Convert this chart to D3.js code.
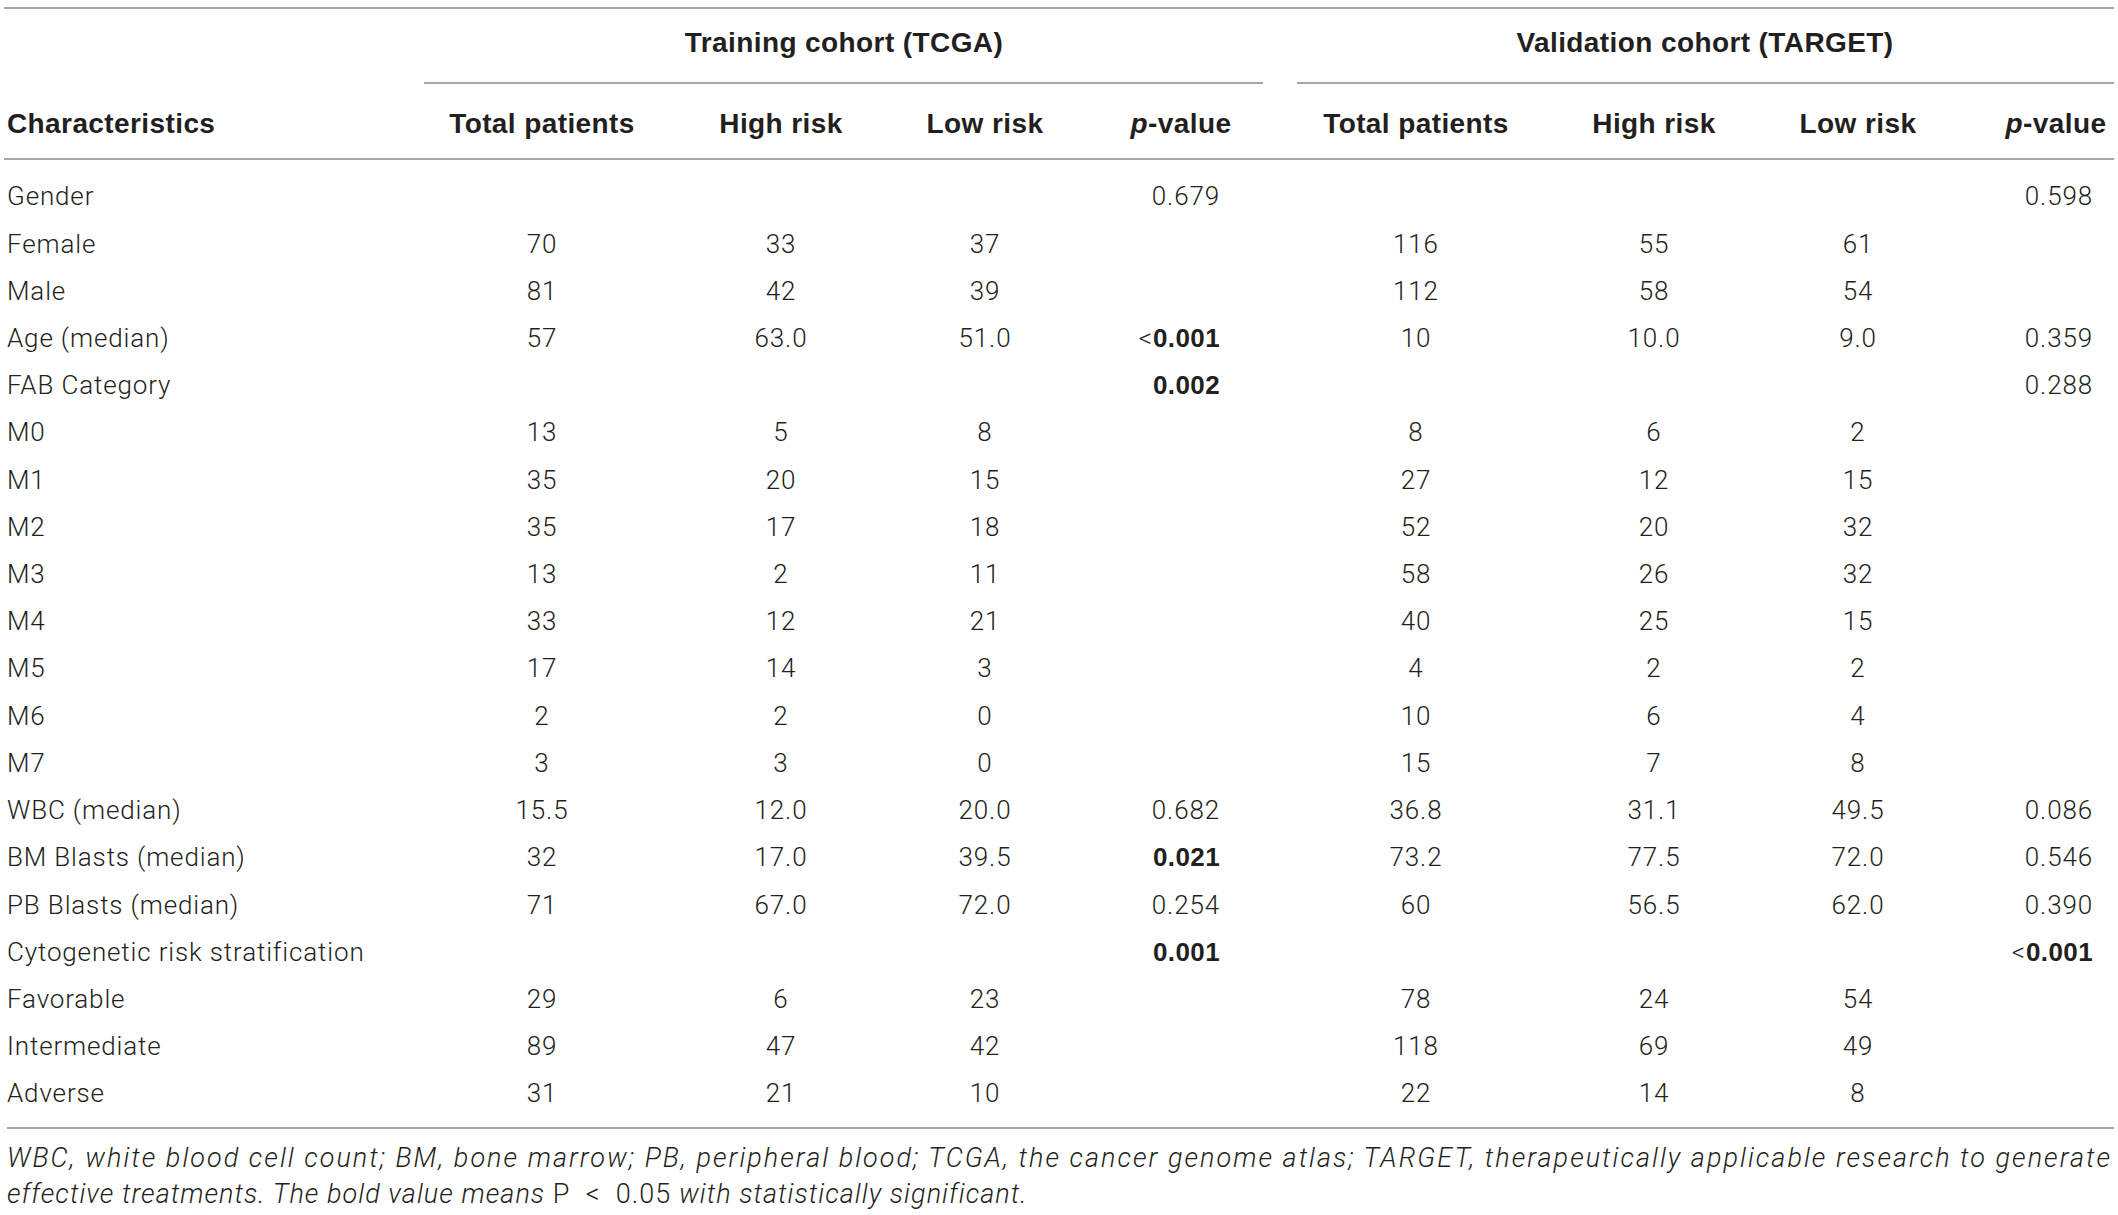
<!DOCTYPE html>
<html>
<head>
<meta charset="utf-8">
<script src="https://cdn.jsdelivr.net/npm/d3@7"></script>
<style>
  body { margin: 0; background: #fff; }
  svg { display: block; }
  text { font-family: Roboto, "Liberation Sans", sans-serif; fill: #231f20; }
  .bold { font-family: "Liberation Sans", Arial, sans-serif; font-weight: 700; letter-spacing: 0.4px; }
  .light { font-family: Roboto, sans-serif; font-weight: 300; letter-spacing: 0.85px; }
</style>
</head>
<body>
<div id="graph"></div>
<script>
var labels = ['Gender', 'Female', 'Male', 'Age (median)', 'FAB Category', 'M0', 'M1', 'M2', 'M3', 'M4',
  'M5', 'M6', 'M7', 'WBC (median)', 'BM Blasts (median)', 'PB Blasts (median)',
  'Cytogenetic risk stratification', 'Favorable', 'Intermediate', 'Adverse']

var tcgaTotal = ['', '70', '81', '57', '', '13', '35', '35', '13', '33', '17', '2', '3', '15.5', '32', '71', '', '29', '89', '31']
var tcgaHigh  = ['', '33', '42', '63.0', '', '5', '20', '17', '2', '12', '14', '2', '3', '12.0', '17.0', '67.0', '', '6', '47', '21']
var tcgaLow   = ['', '37', '39', '51.0', '', '8', '15', '18', '11', '21', '3', '0', '0', '20.0', '39.5', '72.0', '', '23', '42', '10']
var tcgaP     = ['0.679', '', '', '<0.001', '0.002', '', '', '', '', '', '', '', '', '0.682', '0.021', '0.254', '0.001', '', '', '']

var targetTotal = ['', '116', '112', '10', '', '8', '27', '52', '58', '40', '4', '10', '15', '36.8', '73.2', '60', '', '78', '118', '22']
var targetHigh  = ['', '55', '58', '10.0', '', '6', '12', '20', '26', '25', '2', '6', '7', '31.1', '77.5', '56.5', '', '24', '69', '14']
var targetLow   = ['', '61', '54', '9.0', '', '2', '15', '32', '32', '15', '2', '4', '8', '49.5', '72.0', '62.0', '', '54', '49', '8']
var targetP     = ['0.598', '', '', '0.359', '0.288', '', '', '', '', '', '', '', '', '0.086', '0.546', '0.390', '<0.001', '', '', '']

var groups = ['Training cohort (TCGA)', 'Validation cohort (TARGET)']
var colNames = ['Total patients', 'High risk', 'Low risk', 'p-value']
var footLines = [
  'WBC, white blood cell count; BM, bone marrow; PB, peripheral blood; TCGA, the cancer genome atlas; TARGET, therapeutically applicable research to generate',
  'effective treatments. The bold value means '
]

var width = 2118, height = 1215
var svg = d3.select('#graph').append('svg').attr('width', width).attr('height', height)

var columns = [
  {key: 't0', vals: tcgaTotal}, {key: 't1', vals: tcgaHigh}, {key: 't2', vals: tcgaLow}, {key: 't3', vals: tcgaP, p: true},
  {key: 'v0', vals: targetTotal}, {key: 'v1', vals: targetHigh}, {key: 'v2', vals: targetLow}, {key: 'v3', vals: targetP, p: true}
]

// column centres, and the right edge used by the p-value columns
var x = d3.scaleOrdinal().domain(columns.map(d => d.key))
  .range([542, 781, 985, 1181, 1416, 1654, 1858, 2056])
var xRight = d3.scaleOrdinal().domain(['t3', 'v3']).range([1220, 2093])
var y = d3.scalePoint().domain(d3.range(labels.length)).range([196, 1093])

var rule = '#a7a7a7'
var lineAt = (x1, x2, yy) => svg.append('line')
  .attr('x1', x1).attr('x2', x2).attr('y1', yy).attr('y2', yy)
  .attr('stroke', rule).attr('stroke-width', 2.2)

lineAt(4, 2114, 8)
lineAt(424, 1263, 83)
lineAt(1297, 2114, 83)
lineAt(4, 2114, 159)
lineAt(7, 2114, 1128)

// group headers
svg.selectAll('text.group').data(groups).join('text')
  .attr('class', 'group bold')
  .attr('x', (d, i) => i ? 1705 : 844).attr('y', 42).attr('dy', '0.36em')
  .attr('text-anchor', 'middle').attr('font-size', 28)
  .text(d => d)

// column headers
svg.append('text').attr('class', 'bold').attr('x', 7).attr('y', 123).attr('dy', '0.36em')
  .attr('font-size', 28).text('Characteristics')

columns.forEach((c, i) => {
  var name = colNames[i % 4]
  var t = svg.append('text').attr('class', 'bold')
    .attr('x', x(c.key)).attr('y', 123).attr('dy', '0.36em')
    .attr('text-anchor', 'middle').attr('font-size', 28)
  if (c.p) {
    t.append('tspan').attr('font-style', 'italic').text('p')
    t.append('tspan').text('-value')
  } else t.text(name)
})

// row labels
svg.selectAll('text.lab').data(labels).join('text')
  .attr('class', 'lab light')
  .attr('x', 7).attr('y', (d, i) => y(i)).attr('dy', '0.36em')
  .attr('font-size', 26)
  .text(d => d)

// cells
columns.forEach(c => {
  var cells = svg.selectAll('text.' + c.key).data(c.vals).join('text')
    .attr('class', c.key + ' light')
    .attr('x', c.p ? xRight(c.key) : x(c.key))
    .attr('y', (d, i) => y(i)).attr('dy', '0.36em')
    .attr('text-anchor', c.p ? 'end' : 'middle')
    .attr('font-size', 26)

  cells.each(function(d) {
    var t = d3.select(this)
    if (!d) return
    var num = +d.replace('<', '')
    var sig = c.p && num < 0.05
    var cls = sig ? 'bold' : 'light'
    if (d[0] == '<') {
      t.append('tspan').attr('class', 'light').text('<')
      t.append('tspan').attr('class', cls).text(d.slice(1))
    } else {
      t.attr('class', c.key + ' ' + cls).text(d)
    }
  })
})

// footnote
svg.append('text').attr('x', 7).attr('y', 1157).attr('dy', '0.36em')
  .attr('font-size', 27).attr('font-weight', 300).attr('font-style', 'italic')
  .attr('textLength', 2103).attr('lengthAdjust', 'spacing')
  .text(footLines[0])

var f2 = svg.append('text').attr('x', 7).attr('y', 1193).attr('dy', '0.36em')
  .attr('font-size', 27).attr('font-weight', 300).attr('font-style', 'italic')
  .style('letter-spacing', '1.05px')
f2.append('tspan').text(footLines[1])
f2.append('tspan').attr('font-style', 'normal').text('P \u00a0<\u00a0 0.05')
f2.append('tspan').text(' with statistically significant.')
</script>
</body>
</html>
